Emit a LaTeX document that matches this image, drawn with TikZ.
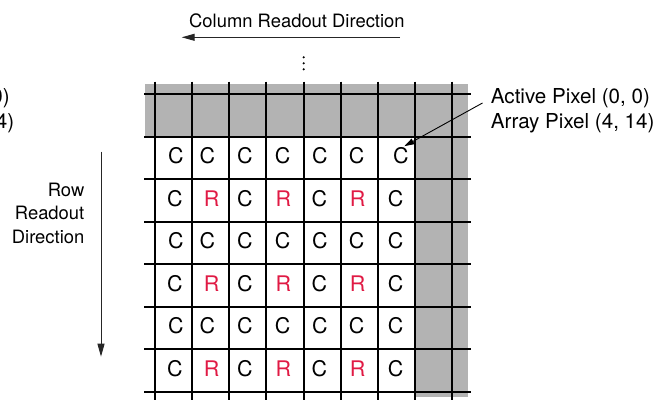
\documentclass[tikz,border=0pt]{standalone}
\usepackage{fontspec}
\setmainfont{TeX Gyre Heros}
\usetikzlibrary{arrows.meta,calc}
\definecolor{pixgray}{RGB}{179,179,179}
\definecolor{rcol}{RGB}{224,26,68}
\begin{document}
\begin{tikzpicture}[x=1pt,y=-1pt,
  gridline/.style={line width=2pt,black},
  cellc/.style={inner sep=0pt,font=\fontsize{21.5}{21.5}\selectfont},
  cellr/.style={cellc,text=rcol},
  lbl/.style={inner sep=0pt,font=\fontsize{18.4}{23.7}\selectfont},
  ann/.style={inner sep=0pt,font=\fontsize{20.6}{25}\selectfont},
  dirarrow/.style={line width=1pt,black!85,-{Triangle[length=13pt,width=7pt]}},
  annarrow/.style={line width=0.9pt,black,-{Triangle[length=10pt,width=6pt]}},
  ]
\useasboundingbox (0,0) rectangle (671,401);
\clip (0,0) rectangle (671,401);
% shaded border pixels
\fill[pixgray] (145,84.5) rectangle (468,136.5);
\fill[pixgray] (415,84.5) rectangle (468,397);
% grid
\foreach \k in {0,...,8}
  \draw[gridline] ({155+37.16*\k},81.7) -- ({155+37.16*\k},400);
\foreach \j in {0,...,7}
  \draw[gridline] (144,{94+42.5*\j}) -- (471,{94+42.5*\j});
% continuation dots
\foreach \d in {57.3,63.3,69.3}
  \fill (303.7,\d) circle (1.2);
% cell letters: C rows
\foreach \x [count=\k] in {176,207.3,245,282.7,320,356.7,400.8}
  \node[cellc] (c-1-\k) at (\x,155.7) {C};
\foreach \i in {3,5}
  \foreach \x [count=\k] in {176,207.3,245,282.7,320,356.7,395.7}
    \node[cellc] (c-\i-\k) at (\x,{94+42.5*\i+19.5}) {C};
% mixed rows
\foreach \i in {2,4,6}{
  \foreach \x/\k in {175/1,245/3,319.3/5,395.7/7}
    \node[cellc] (c-\i-\k) at (\x,{94+42.5*\i+19.5}) {C};
  \foreach \x/\k in {211.7/2,283.3/4,357.7/6}
    \node[cellr] (c-\i-\k) at (\x,{94+42.5*\i+19.5}) {R};
}
% column readout
\node[lbl,anchor=base west] (coltxt) at (189,27.3) {Column Readout Direction};
\coordinate (colstart) at (400,37.3);
\coordinate (colend) at (181.7,37.3);
\draw[dirarrow] (colstart) -- (colend);
% row readout
\node[lbl,anchor=base east] (row1) at (84.5,196) {Row};
\node[lbl,anchor=base east] (row2) at (84.5,219.5) {Readout};
\node[lbl,anchor=base east] (row3) at (84.5,243.5) {Direction};
\coordinate (rowstart) at (101,151.7);
\coordinate (rowend) at (101,356.7);
\draw[dirarrow] (rowstart) -- (rowend);
% annotation
\node[ann,anchor=base west] (act) at (490.7,103.3) {Active Pixel (0, 0)};
\node[ann,anchor=base west] (arr) at (490.7,128.3) {Array Pixel (4, 14)};
\coordinate (annstart) at (482.5,103);
\draw[annarrow] (annstart) -- ($(c-1-7)+(3.5,-9.5)$);
% clipped copy of the label at the left edge
\node[ann,anchor=base west] (actcut) at (-149.5,103.3) {Active Pixel (0, 0)};
\node[ann,anchor=base west] (arrcut) at (-149.5,128.3) {Array Pixel (4, 14)};
\end{tikzpicture}
\end{document}
